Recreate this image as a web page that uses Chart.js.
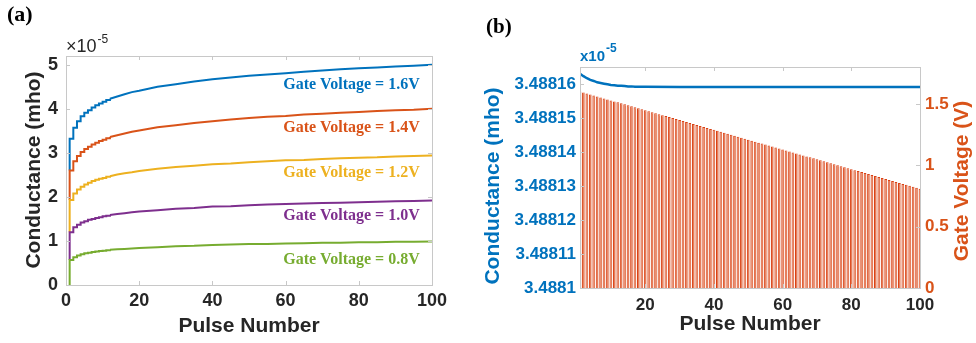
<!DOCTYPE html>
<html>
<head>
<meta charset="utf-8">
<script src="https://cdn.jsdelivr.net/npm/chart.js@4.4.1/dist/chart.umd.min.js"></script>
<style>
body { margin: 0; background: #fff; }
#wrap { position: relative; width: 976px; height: 343px; }
canvas { position: absolute; top: 0; }
#chart-a { left: 0; }
#chart-b { left: 480px; }
</style>
</head>
<body>
<div id="wrap">
<canvas id="chart-a" width="480" height="343"></canvas>
<canvas id="chart-b" width="496" height="343"></canvas>
</div>
<script>
// ---- panel (a) data: conductance (x1e-5 mho) vs pulse number ----
var voltageNames = ['0.8', '1.0', '1.2', '1.4', '1.6'];
var lineColors = ['#77AC30', '#7E2F8E', '#EDB120', '#D95319', '#0072BD'];
var stepPulses = [1, 2, 3, 4, 5, 6, 7, 8, 9, 10, 11, 12];
var smoothPulses = [12, 14, 16, 18, 20, 25, 30, 35, 40, 45, 50, 55, 60, 65, 70, 75, 80, 85, 90, 95, 100];
var startLevel = [0, 0.57, 1.20, 1.93, 2.60];

var g08Step = [0.57, 0.63, 0.67, 0.70, 0.72, 0.73, 0.75, 0.76, 0.77, 0.78, 0.79, 0.80];
var g10Step = [1.20, 1.31, 1.37, 1.42, 1.45, 1.48, 1.50, 1.52, 1.54, 1.56, 1.57, 1.59];
var g12Step = [1.93, 2.08, 2.17, 2.23, 2.28, 2.32, 2.36, 2.39, 2.41, 2.43, 2.46, 2.47];
var g14Step = [2.60, 2.81, 2.93, 3.02, 3.09, 3.14, 3.19, 3.23, 3.27, 3.30, 3.33, 3.36];
var g16Step = [3.32, 3.57, 3.72, 3.83, 3.91, 3.97, 4.03, 4.08, 4.12, 4.16, 4.20, 4.23];

var g08Smooth = [0.80, 0.81, 0.82, 0.83, 0.84, 0.86, 0.88, 0.89, 0.91, 0.92, 0.93, 0.93, 0.94, 0.95, 0.96, 0.96, 0.97, 0.97, 0.98, 0.98, 0.99];
var g10Smooth = [1.59, 1.61, 1.63, 1.65, 1.67, 1.70, 1.73, 1.75, 1.78, 1.79, 1.81, 1.83, 1.84, 1.85, 1.86, 1.87, 1.88, 1.89, 1.90, 1.91, 1.92];
var g12Smooth = [2.47, 2.51, 2.54, 2.56, 2.59, 2.64, 2.68, 2.71, 2.74, 2.76, 2.79, 2.81, 2.83, 2.84, 2.86, 2.88, 2.89, 2.90, 2.92, 2.93, 2.94];
var g14Smooth = [3.36, 3.40, 3.44, 3.48, 3.51, 3.58, 3.63, 3.68, 3.72, 3.76, 3.79, 3.82, 3.84, 3.87, 3.89, 3.91, 3.93, 3.95, 3.97, 3.98, 4.00];
var g16Smooth = [4.23, 4.28, 4.33, 4.38, 4.41, 4.50, 4.56, 4.62, 4.67, 4.71, 4.75, 4.78, 4.81, 4.84, 4.87, 4.90, 4.92, 4.94, 4.96, 4.98, 5.00];

var stepValues = [g08Step, g10Step, g12Step, g14Step, g16Step];
var smoothValues = [g08Smooth, g10Smooth, g12Smooth, g14Smooth, g16Smooth];
var xTicksA = [0, 20, 40, 60, 80, 100];
var yTicksA = [0, 1, 2, 3, 4, 5];

// ---- panel (b) data ----
var condPulses = [1, 2, 3, 4, 5, 6, 7, 8, 9, 10, 11, 12, 13, 14, 15, 16, 17, 18, 19, 20, 30, 40, 50, 60, 70, 80, 90, 100];
var condValues = [3.4881630, 3.4881623, 3.4881617, 3.4881612, 3.4881609, 3.4881605, 3.4881603, 3.4881601, 3.4881599, 3.4881597,
  3.4881596, 3.4881595, 3.4881595, 3.4881594, 3.4881593, 3.4881593, 3.4881592, 3.4881592, 3.4881592, 3.4881592,
  3.4881591, 3.4881591, 3.4881591, 3.4881591, 3.4881591, 3.4881591, 3.4881591, 3.4881591];
var barPulses = [1, 2, 3, 4, 5, 6, 7, 8, 9, 10, 11, 12, 13, 14, 15, 16, 17, 18, 19, 20,
  21, 22, 23, 24, 25, 26, 27, 28, 29, 30, 31, 32, 33, 34, 35, 36, 37, 38, 39, 40,
  41, 42, 43, 44, 45, 46, 47, 48, 49, 50, 51, 52, 53, 54, 55, 56, 57, 58, 59, 60,
  61, 62, 63, 64, 65, 66, 67, 68, 69, 70, 71, 72, 73, 74, 75, 76, 77, 78, 79, 80,
  81, 82, 83, 84, 85, 86, 87, 88, 89, 90, 91, 92, 93, 94, 95, 96, 97, 98, 99, 100];
var gateVoltage = [1.600, 1.592, 1.584, 1.576, 1.568, 1.560, 1.552, 1.544, 1.536, 1.528,
  1.520, 1.512, 1.504, 1.496, 1.488, 1.480, 1.472, 1.464, 1.456, 1.448,
  1.440, 1.432, 1.424, 1.416, 1.408, 1.400, 1.392, 1.384, 1.376, 1.368,
  1.360, 1.352, 1.344, 1.336, 1.328, 1.320, 1.312, 1.304, 1.296, 1.288,
  1.280, 1.272, 1.264, 1.256, 1.248, 1.240, 1.232, 1.224, 1.216, 1.208,
  1.200, 1.192, 1.184, 1.176, 1.168, 1.160, 1.152, 1.144, 1.136, 1.128,
  1.120, 1.112, 1.104, 1.096, 1.088, 1.080, 1.072, 1.064, 1.056, 1.048,
  1.040, 1.032, 1.024, 1.016, 1.008, 1.000, 0.992, 0.984, 0.976, 0.968,
  0.960, 0.952, 0.944, 0.936, 0.928, 0.920, 0.912, 0.904, 0.896, 0.888,
  0.880, 0.872, 0.864, 0.856, 0.848, 0.840, 0.832, 0.824, 0.816, 0.808];
var xTicksB = [20, 40, 60, 80, 100];
var condTicks = [3.4881, 3.48811, 3.48812, 3.48813, 3.48814, 3.48815, 3.48816];
var condTickLabels = ['3.4881', '3.48811', '3.48812', '3.48813', '3.48814', '3.48815', '3.48816'];
var voltTicks = [0, 0.5, 1, 1.5];
var voltTickLabels = ['0', '0.5', '1', '1.5'];

var sans = '"Liberation Sans", Arial, sans-serif';
var serif = '"Liberation Serif", "Times New Roman", serif';
var tickFontA = {family: sans, size: 18, weight: 'bold'};
var tickFont = {family: sans, size: 17, weight: 'bold'};
var dark = '#262626';
var boxColor = '#c8c8c8';
var noGrid = {display: false, drawTicks: false};

function setTicks(values) {
  return function(scale) {
    scale.ticks = values.map(function(v) { return {value: v}; });
  };
}

function drawBox(ctx, area) {
  ctx.save();
  ctx.strokeStyle = boxColor;
  ctx.lineWidth = 1;
  ctx.strokeRect(Math.round(area.left) + 0.5, Math.round(area.top) + 0.5,
    Math.round(area.right - area.left), Math.round(area.bottom - area.top));
  ctx.restore();
}

function drawXMarks(ctx, area, scale, values) {
  ctx.save();
  ctx.strokeStyle = boxColor;
  ctx.lineWidth = 1;
  ctx.beginPath();
  for (var i = 0; i < values.length; i++) {
    var px = Math.round(scale.getPixelForValue(values[i])) + 0.5;
    ctx.moveTo(px, area.bottom);
    ctx.lineTo(px, area.bottom - 4);
    ctx.moveTo(px, area.top);
    ctx.lineTo(px, area.top + 4);
  }
  ctx.stroke();
  ctx.restore();
}

function drawYMarks(ctx, area, scale, values, side) {
  ctx.save();
  ctx.strokeStyle = boxColor;
  ctx.lineWidth = 1;
  ctx.beginPath();
  for (var i = 0; i < values.length; i++) {
    var py = Math.round(scale.getPixelForValue(values[i])) + 0.5;
    if (side != 'right') {
      ctx.moveTo(area.left, py);
      ctx.lineTo(area.left + 4, py);
    }
    if (side != 'left') {
      ctx.moveTo(area.right, py);
      ctx.lineTo(area.right - 4, py);
    }
  }
  ctx.stroke();
  ctx.restore();
}

function drawText(ctx, text, x, y, font, color, align, rotate) {
  ctx.save();
  ctx.font = font;
  ctx.fillStyle = color;
  ctx.textAlign = align || 'center';
  ctx.textBaseline = 'middle';
  ctx.translate(x, y);
  if (rotate) ctx.rotate(-Math.PI / 2);
  ctx.fillText(text, 0, 0);
  ctx.restore();
}

function drawExponent(ctx, base, x, y, font, supFont, color) {
  ctx.save();
  ctx.fillStyle = color;
  ctx.textBaseline = 'alphabetic';
  ctx.textAlign = 'left';
  ctx.font = font;
  ctx.fillText(base, x, y);
  var w = ctx.measureText(base).width;
  ctx.font = supFont;
  ctx.fillText('-5', x + w + 1, y - 9);
  ctx.restore();
}

// ---- panel (a) ----
var datasetsA = [];
for (var i = 0; i < voltageNames.length; i++) {
  var early = [{x: stepPulses[0], y: startLevel[i]}];
  for (var j = 0; j < stepPulses.length; j++) {
    early.push({x: stepPulses[j], y: stepValues[i][j]});
  }
  var late = [];
  for (var k = 0; k < smoothPulses.length; k++) {
    late.push({x: smoothPulses[k], y: smoothValues[i][k]});
  }
  datasetsA.push({label: voltageNames[i], data: early, borderColor: lineColors[i], borderWidth: 2,
    pointRadius: 0, stepped: true, fill: false, borderJoinStyle: 'miter'});
  datasetsA.push({label: voltageNames[i], data: late, borderColor: lineColors[i], borderWidth: 2,
    pointRadius: 0, tension: 0, fill: false});
}

var labelAt = [[78, 0.57], [78, 1.57], [78, 2.55], [78, 3.57], [78, 4.55]];

var decorA = {
  id: 'decorA',
  afterDraw: function(chart) {
    var ctx = chart.ctx;
    var area = chart.chartArea;
    var xs = chart.scales.x;
    var ys = chart.scales.y;
    drawBox(ctx, area);
    drawXMarks(ctx, area, xs, xTicksA);
    drawYMarks(ctx, area, ys, yTicksA, 'both');
    for (var i = 0; i < voltageNames.length; i++) {
      drawText(ctx, 'Gate Voltage = ' + voltageNames[i] + 'V', xs.getPixelForValue(labelAt[i][0]),
        ys.getPixelForValue(labelAt[i][1]), 'bold 16px ' + serif, lineColors[i]);
    }
    drawExponent(ctx, '\u00d710', 66, 52, '18px ' + sans, '12px ' + sans, dark);
    ctx.save();
    ctx.font = 'bold 22px ' + serif;
    ctx.fillStyle = '#000';
    ctx.textBaseline = 'alphabetic';
    ctx.fillText('(a)', 7, 21);
    ctx.restore();
    drawText(ctx, 'Conductance (mho)', 34, 170, 'bold 21px ' + sans, dark, 'center', true);
    drawText(ctx, 'Pulse Number', (area.left + area.right) / 2, 326, 'bold 21px ' + sans, dark);
  }
};

new Chart(document.getElementById('chart-a'), {
  type: 'line',
  data: {datasets: datasetsA},
  options: {
    responsive: false,
    animation: false,
    devicePixelRatio: 1,
    layout: {padding: {left: 0, right: 48, top: 56, bottom: 0}},
    plugins: {legend: {display: false}, tooltip: {enabled: false}},
    scales: {
      x: {
        type: 'linear', min: 0, max: 100,
        grid: noGrid, border: {display: false},
        afterBuildTicks: setTicks(xTicksA),
        afterFit: function(s) { s.height = 58; },
        ticks: {autoSkip: false, maxRotation: 0, padding: 5, color: dark, font: tickFontA}
      },
      y: {
        type: 'linear', min: 0, max: 5.2,
        grid: noGrid, border: {display: false},
        afterBuildTicks: setTicks(yTicksA),
        afterFit: function(s) { s.width = 66; },
        ticks: {autoSkip: false, padding: 8, color: dark, font: tickFontA}
      }
    }
  },
  plugins: [decorA]
});

// ---- panel (b) ----
var condData = [];
for (var c = 0; c < condPulses.length; c++) {
  condData.push({x: condPulses[c], y: condValues[c]});
}
var barData = [];
for (var b = 0; b < barPulses.length; b++) {
  barData.push({x: barPulses[b], y: gateVoltage[b]});
}

var decorB = {
  id: 'decorB',
  afterDraw: function(chart) {
    var ctx = chart.ctx;
    var area = chart.chartArea;
    drawBox(ctx, area);
    drawXMarks(ctx, area, chart.scales.x, xTicksB);
    drawYMarks(ctx, area, chart.scales.y, condTicks, 'left');
    drawYMarks(ctx, area, chart.scales.y2, voltTicks, 'right');
    drawExponent(ctx, 'x10', 100, 61, 'bold 15px ' + sans, 'bold 12px ' + sans, '#0072BD');
    ctx.save();
    ctx.font = 'bold 21px ' + serif;
    ctx.fillStyle = '#000';
    ctx.textBaseline = 'alphabetic';
    ctx.fillText('(b)', 6, 33);
    ctx.restore();
    drawText(ctx, 'Conductance (mho)', 13, 186, 'bold 21px ' + sans, '#0072BD', 'center', true);
    drawText(ctx, 'Gate Voltage (V)', 482, 181, 'bold 21px ' + sans, '#D95319', 'center', true);
    drawText(ctx, 'Pulse Number', (area.left + area.right) / 2, 324, 'bold 21px ' + sans, dark);
  }
};

new Chart(document.getElementById('chart-b'), {
  type: 'bar',
  data: {
    datasets: [
      {type: 'line', data: condData, yAxisID: 'y', borderColor: '#0072BD', borderWidth: 2.5,
        pointRadius: 0, tension: 0, fill: false, order: 0},
      {type: 'bar', data: barData, yAxisID: 'y2', backgroundColor: '#E57E5C', borderColor: '#DA4114',
        borderWidth: {left: 1, top: 1, right: 0, bottom: 0}, borderSkipped: false,
        barPercentage: 0.8, categoryPercentage: 1, order: 1}
    ]
  },
  options: {
    responsive: false,
    animation: false,
    devicePixelRatio: 1,
    layout: {padding: {left: 0, right: 0, top: 67, bottom: 0}},
    plugins: {legend: {display: false}, tooltip: {enabled: false}},
    scales: {
      x: {
        type: 'linear', min: 1, max: 100, offset: false,
        grid: noGrid, border: {display: false},
        afterBuildTicks: setTicks(xTicksB),
        afterFit: function(s) { s.height = 55; },
        ticks: {autoSkip: false, maxRotation: 0, padding: 7, color: dark, font: tickFont}
      },
      y: {
        type: 'linear', position: 'left', min: 3.4881, max: 3.488165,
        grid: noGrid, border: {display: false},
        afterBuildTicks: setTicks(condTicks),
        afterFit: function(s) { s.width = 100; },
        ticks: {autoSkip: false, padding: 4, color: '#0072BD', font: tickFont,
          callback: function(value, index) { return condTickLabels[index]; }}
      },
      y2: {
        type: 'linear', position: 'right', min: 0, max: 1.8,
        grid: noGrid, border: {display: false},
        afterBuildTicks: setTicks(voltTicks),
        afterFit: function(s) { s.width = 56; },
        ticks: {autoSkip: false, padding: 5, color: '#D95319', font: tickFont,
          callback: function(value, index) { return voltTickLabels[index]; }}
      }
    }
  },
  plugins: [decorB]
});
</script>
</body>
</html>
